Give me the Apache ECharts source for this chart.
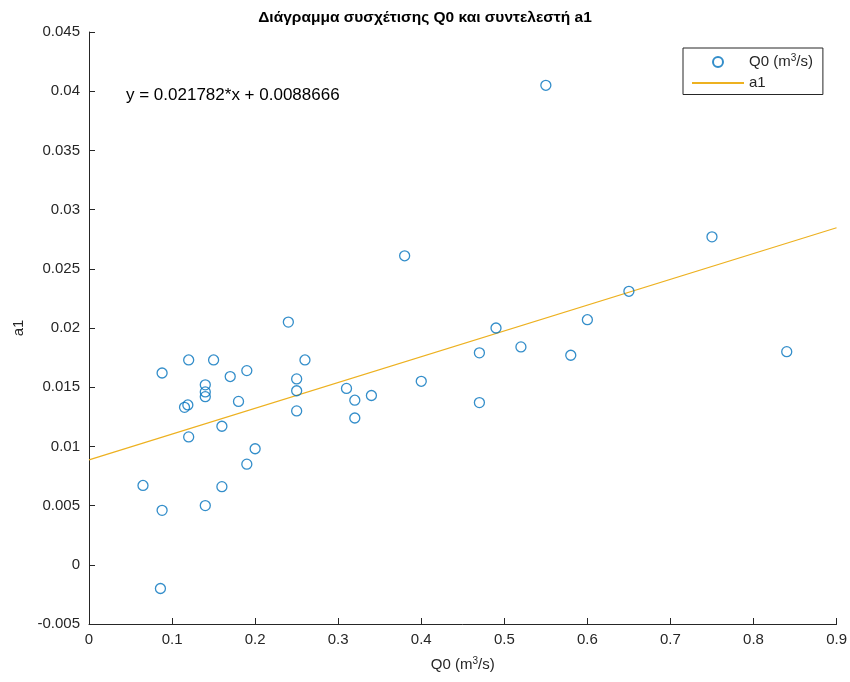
<!DOCTYPE html>
<html>
<head>
<meta charset="utf-8">
<script src="https://cdn.jsdelivr.net/npm/echarts@6/dist/echarts.min.js"></script>
<style>
	html, body { margin: 0; padding: 0; background: #fff; }
	#main { width: 850px; height: 682px; }
</style>
</head>
<body>
<div id="main"></div>
<script>
// measured points (Q0, a1)
const q0 = [0.55, 0.75, 0.38, 0.65, 0.24, 0.60, 0.49, 0.52, 0.47, 0.58, 0.84, 0.088, 0.12, 0.15, 0.26, 0.19, 0.17, 0.25, 0.14, 0.14, 0.14, 0.25, 0.31, 0.40, 0.34, 0.32, 0.115, 0.119, 0.18, 0.25, 0.32, 0.47, 0.12, 0.16, 0.20, 0.19, 0.065, 0.16, 0.088, 0.14, 0.086]
const a1 = [0.0405, 0.0277, 0.0261, 0.0231, 0.0205, 0.0207, 0.0200, 0.0184, 0.0179, 0.0177, 0.0180, 0.0162, 0.0173, 0.0173, 0.0173, 0.0164, 0.0159, 0.0157, 0.0152, 0.0146, 0.0142, 0.0147, 0.0149, 0.0155, 0.0143, 0.0139, 0.0133, 0.0135, 0.0138, 0.0130, 0.0124, 0.0137, 0.0108, 0.0117, 0.0098, 0.0085, 0.0067, 0.0066, 0.0046, 0.0050, -0.0020]
// fitted line end points
const fitX = [0, 0.9]
const fitY = [0.0088666, 0.0284704]
const xTicks = ['0', '0.1', '0.2', '0.3', '0.4', '0.5', '0.6', '0.7', '0.8', '0.9']
const equation = 'y = 0.021782*x + 0.0088666'

const font = "'Liberation Sans', Arial, Helvetica, sans-serif"
const axisColor = '#262626'

const chart = echarts.init(document.getElementById('main'), null, { renderer: 'canvas' })

const supRich = {
	n: { fontFamily: font, fontSize: 15, color: axisColor },
	s: { fontFamily: font, fontSize: 10, color: axisColor, verticalAlign: 'top', padding: [0, 0, 8, 0] },
}

const options = {
	backgroundColor: '#fff',
	animation: false,
	title: {
		text: 'Διάγραμμα συσχέτισης Q0 και συντελεστή a1',
		left: 'center',
		top: 5,
		textStyle: { fontFamily: font, fontSize: 15.5, fontWeight: 'bold', color: '#000' },
	},
	grid: { left: 89, right: 12, top: 32, bottom: 58 },
	legend: {
		orient: 'vertical',
		left: 683,
		top: 48,
		padding: [5, 10, 4, 8],
		itemGap: 6,
		itemWidth: 52,
		itemHeight: 10,
		borderColor: axisColor,
		borderWidth: 1,
		backgroundColor: '#fff',
		data: [
			{ name: 'Q0' },
			{ name: 'a1', itemStyle: { opacity: 0 } },
		],
		formatter: name => name === 'Q0' ? '{n|Q0 (m}{s|3}{n|/s)}' : '{n|a1}',
		textStyle: { fontFamily: font, fontSize: 15, color: axisColor, rich: supRich },
	},
	xAxis: {
		type: 'value',
		min: 0,
		max: 0.9,
		interval: 0.1,
		name: '{n|Q0 (m}{s|3}{n|/s)}',
		nameLocation: 'middle',
		nameGap: 32,
		nameTextStyle: { rich: supRich },
		axisLine: { show: true, onZero: false, lineStyle: { color: axisColor, width: 1 } },
		axisTick: { inside: true, length: 6, lineStyle: { color: axisColor } },
		axisLabel: {
			fontFamily: font, fontSize: 15, color: axisColor, margin: 8,
			formatter: (v, i) => xTicks[i] !== undefined ? xTicks[i] : String(v),
		},
		splitLine: { show: false },
	},
	yAxis: {
		type: 'value',
		min: -0.005,
		max: 0.045,
		interval: 0.005,
		name: 'a1',
		nameLocation: 'middle',
		nameGap: 59,
		nameTextStyle: { fontFamily: font, fontSize: 15, color: axisColor },
		axisLine: { show: true, onZero: false, lineStyle: { color: axisColor, width: 1 } },
		axisTick: { show: true, inside: true, length: 6, lineStyle: { color: axisColor } },
		axisLabel: {
			fontFamily: font, fontSize: 15, color: axisColor, margin: 9,
			formatter: v => String(parseFloat(v.toFixed(4))),
		},
		splitLine: { show: false },
	},
	graphic: [
		{
			type: 'text',
			left: 126,
			top: 87,
			style: { text: equation, fontFamily: font, fontSize: 17, fill: '#000' },
		},
	],
	series: [
		{
			name: 'Q0',
			type: 'scatter',
			symbol: 'circle',
			symbolSize: 10,
			itemStyle: { color: 'transparent', borderColor: '#0072BD', borderWidth: 1.3 },
			data: q0.map((x, i) => [x, a1[i]]),
			z: 3,
		},
		{
			name: 'a1',
			type: 'line',
			symbol: 'none',
			lineStyle: { color: '#EDB120', width: 1.2 },
			itemStyle: { color: '#EDB120' },
			data: fitX.map((x, i) => [x, fitY[i]]),
			z: 2,
		},
	],
}
chart.setOption(options)
</script>
</body>
</html>
